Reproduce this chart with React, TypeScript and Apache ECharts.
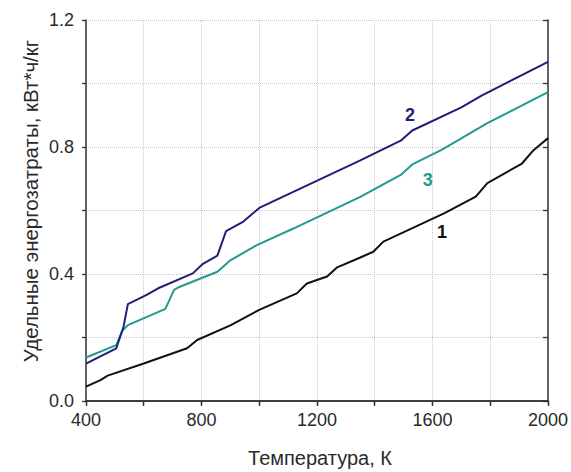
import React, { useEffect, useRef } from "react";
import * as echarts from "echarts";

const curve1T = [400, 450, 475, 600, 750, 785, 900, 1000, 1130, 1165, 1235, 1270, 1350, 1395, 1430, 1640, 1750, 1790, 1910, 1950, 2000];
const curve1V = [0.045, 0.066, 0.08, 0.118, 0.166, 0.192, 0.238, 0.287, 0.339, 0.37, 0.392, 0.421, 0.452, 0.47, 0.502, 0.591, 0.644, 0.686, 0.748, 0.79, 0.828];

const curve2T = [400, 505, 530, 545, 610, 650, 770, 805, 855, 885, 945, 1000, 1280, 1350, 1490, 1530, 1700, 1770, 2000];
const curve2V = [0.118, 0.166, 0.234, 0.305, 0.334, 0.355, 0.402, 0.432, 0.458, 0.535, 0.565, 0.608, 0.728, 0.758, 0.82, 0.852, 0.925, 0.962, 1.068];

const curve3T = [400, 505, 525, 545, 675, 705, 725, 855, 900, 990, 1120, 1350, 1490, 1530, 1630, 1790, 2000];
const curve3V = [0.137, 0.176, 0.22, 0.239, 0.29, 0.35, 0.36, 0.407, 0.443, 0.49, 0.544, 0.643, 0.712, 0.745, 0.79, 0.875, 0.973];

const seriesNames = ["1", "2", "3"];
const labelCoords: [number, number][] = [[1633, 0.532], [1522, 0.9], [1584, 0.696]];
const colors = ["#111111", "#1f1f7a", "#229a8c"];

const xTitle = "Температура, К";
const yTitle = "Удельные энергозатраты, кВт*ч/кг";

const zip = (t: number[], v: number[]) => t.map((x, i) => [x, v[i]]);

export default function App() {
  const ref = useRef<HTMLDivElement>(null);
  useEffect(() => {
    if (!ref.current) return;
    const chart = echarts.init(ref.current, null, { renderer: "svg" });
    const font = "'Liberation Sans', Arial, sans-serif";
    const axisLine = { show: true, lineStyle: { color: "#333", width: 1.5 } };
    const data = [zip(curve1T, curve1V), zip(curve2T, curve2V), zip(curve3T, curve3V)];
    chart.setOption({
      animation: false,
      backgroundColor: "#fff",
      grid: { left: 86, right: 23, top: 20, bottom: 71 },
      graphic: [
        {
          type: "text",
          x: 320,
          y: 458,
          style: { text: xTitle, font: `20px ${font}`, fill: "#2a2a2a", align: "center", verticalAlign: "middle" },
        },
        {
          type: "text",
          x: 30,
          y: 201,
          rotation: Math.PI / 2,
          style: { text: yTitle, font: `20.5px ${font}`, fill: "#2a2a2a", align: "center", verticalAlign: "middle" },
        },
      ],
      xAxis: [
        {
          type: "value",
          min: 400,
          max: 2000,
          interval: 200,
          axisLine,
          axisTick: { show: true, inside: false, length: 4, lineStyle: { color: "#333", width: 1.3 } },
          axisLabel: {
            fontFamily: font,
            fontSize: 18,
            color: "#2a2a2a",
            margin: 10,
            formatter: (v: number) => (v % 400 === 0 ? String(v) : ""),
          },
          splitLine: { show: true, lineStyle: { color: "#c8c8c8", type: "dotted", width: 1 } },
        },
        {
          type: "value",
          position: "top",
          min: 400,
          max: 2000,
          interval: 200,
          axisLine,
          axisTick: { show: true, inside: true, length: 5, lineStyle: { color: "#333", width: 1.3 } },
          axisLabel: { show: false },
          splitLine: { show: false },
        },
      ],
      yAxis: [
        {
          type: "value",
          min: 0,
          max: 1.2,
          interval: 0.2,
          axisLine,
          axisTick: { show: true, inside: false, length: 4, lineStyle: { color: "#333", width: 1.3 } },
          axisLabel: {
            fontFamily: font,
            fontSize: 18,
            color: "#2a2a2a",
            margin: 12,
            formatter: (v: number) => (Math.round(v * 10) % 4 === 0 ? v.toFixed(1) : ""),
          },
          splitLine: { show: true, lineStyle: { color: "#c8c8c8", type: "dotted", width: 1 } },
        },
        {
          type: "value",
          position: "right",
          min: 0,
          max: 1.2,
          interval: 0.2,
          axisLine,
          axisTick: { show: true, inside: true, length: 5, lineStyle: { color: "#333", width: 1.3 } },
          axisLabel: { show: false },
          splitLine: { show: false },
        },
      ],
      series: data.map((d, i) => ({
        name: seriesNames[i],
        type: "line",
        data: d,
        xAxisIndex: 0,
        yAxisIndex: 0,
        showSymbol: false,
        symbol: "none",
        lineStyle: { color: colors[i], width: 2 },
        z: 3 - i,
        markPoint: {
          symbol: "circle",
          symbolSize: 0,
          data: [{ coord: labelCoords[i] }],
          label: {
            show: true,
            position: "inside",
            formatter: seriesNames[i],
            fontFamily: font,
            fontSize: 18,
            fontWeight: "bold",
            color: colors[i],
          },
        },
      })),
    });
    return () => chart.dispose();
  }, []);
  return <div ref={ref} style={{ width: 571, height: 472, position: "absolute", left: 0, top: 0 }} />;
}
